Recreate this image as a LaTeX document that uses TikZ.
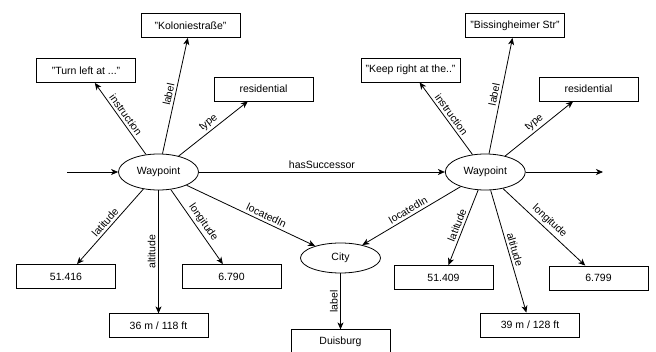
\documentclass[tikz,border=0pt]{standalone}
\usepackage{fontspec}
\setmainfont{Liberation Sans}
\usetikzlibrary{arrows.meta, shapes.geometric, positioning}

\begin{document}
\begin{tikzpicture}[
    x=1pt, y=-1pt, line width=0.8pt,
    font=\fontsize{10.5}{12}\selectfont,
    box/.style={rectangle, draw, minimum width=99pt, minimum height=24pt, inner sep=1pt},
    ent/.style={ellipse, draw, minimum width=80pt, minimum height=36pt, inner sep=0pt},
    arrow/.style={-{Stealth[length=7pt, width=6pt, inset=2pt]}},
    lbl/.style={midway, above, sloped, inner sep=2.5pt},
    vlbl/.style={midway, rotate=90, anchor=south, inner sep=2.5pt}
]
\useasboundingbox (0,0) rectangle (656,352);

% waypoints and city
\node[ent] (wp1) at (158.5,172) {Waypoint};
\node[ent, right=246pt of wp1] (wp2) {Waypoint};
\node[ent, minimum height=30pt] (city) at (340.5,258) {City};

% literals of the first waypoint
\node[box] (instr1) at (86,70.5) {"Turn left at ..."};
\node[box] (name1) at (190.5,25.5) {"Koloniestraße"};
\node[box] (type1) at (263.5,89) {residential};
\node[box] (lat1) at (66,276.5) {51.416};
\node[box, below=123pt of wp1] (alt1) {36 m / 118 ft};
\node[box] (lon1) at (231.5,276.5) {6.790};

% literals of the second waypoint
\node[box] (instr2) at (410.5,70) {"Keep right at the.."};
\node[box] (name2) at (515,25.5) {"Bissingheimer Str"};
\node[box] (type2) at (588.5,89) {residential};
\node[box] (lat2) at (443.5,277.5) {51.409};
\node[box] (alt2) at (530,325) {39 m / 128 ft};
\node[box] (lon2) at (598.5,278) {6.799};

\node[box, below=56pt of city] (cityname) {Duisburg};

\coordinate (in) at (67,172);
\coordinate (out) at (603,172);

\draw[arrow] (in) -- (wp1);
\draw[arrow] (wp1) -- (wp2) node[lbl] {hasSuccessor};
\draw[arrow] (wp2) -- (out);

\draw[arrow] (wp1) -- (instr1) node[lbl] {instruction};
\draw[arrow] (wp1) -- (name1) node[lbl] {label};
\draw[arrow] (wp1) -- (type1) node[lbl] {type};
\draw[arrow] (wp1) -- (lat1) node[lbl] {latitude};
\draw[arrow] (wp1) -- (alt1) node[vlbl] {altitude};
\draw[arrow] (wp1) -- (lon1) node[lbl] {longitude};
\draw[arrow] (wp1) -- (city) node[lbl, pos=0.6] {locatedIn};

\draw[arrow] (wp2) -- (instr2) node[lbl] {instruction};
\draw[arrow] (wp2) -- (name2) node[lbl] {label};
\draw[arrow] (wp2) -- (type2) node[lbl] {type};
\draw[arrow] (wp2) -- (lat2) node[lbl] {latitude};
\draw[arrow] (wp2) -- (alt2) node[lbl] {altitude};
\draw[arrow] (wp2) -- (lon2) node[lbl] {longitude};
\draw[arrow] (wp2) -- (city) node[lbl] {locatedIn};

\draw[arrow] (city) -- (cityname) node[vlbl] {label};

\end{tikzpicture}
\end{document}
